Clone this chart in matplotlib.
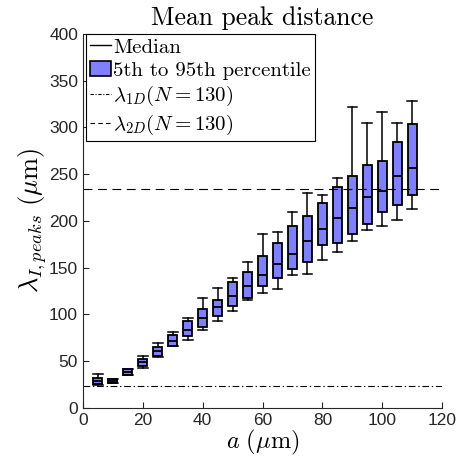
import matplotlib
matplotlib.use("Agg")
import matplotlib.pyplot as plt
from matplotlib.patches import Patch
from matplotlib.lines import Line2D

plt.rcParams['mathtext.fontset'] = 'cm'

# box positions (a in um)
a_vals = [5, 10, 15, 20, 25, 30, 35, 40, 45, 50, 55,
          60, 65, 70, 75, 80, 85, 90, 95, 100, 105, 110]
# lower whisker, 5th pct, median, 95th pct, upper whisker
whis_lo = [24.5, 26.4, 35.0, 42.4, 54.2, 66.3, 72.7, 83.4, 93.4, 103.7, 115.8,
           123.3, 127.6, 142.6, 143.3, 158.0, 166.8, 178.3, 190.0, 195.0, 201.0, 212.5]
q05 = [25.3, 26.4, 35.0, 45.3, 55.6, 66.3, 77.0, 86.6, 98.4, 109.4, 117.6,
       130.1, 138.7, 148.7, 156.5, 174.7, 176.1, 185.8, 196.5, 209.6, 216.6, 227.8]
medians = [29.0, 29.0, 38.5, 49.2, 60.6, 71.3, 83.7, 96.6, 108.0, 120.1, 130.5,
           142.6, 153.7, 165.0, 178.9, 191.4, 203.5, 213.7, 225.8, 231.7, 247.8, 256.2]
q95 = [32.0, 31.3, 41.4, 52.4, 64.9, 78.4, 93.4, 105.5, 115.5, 135.0, 145.0,
       162.6, 176.5, 194.3, 205.7, 218.9, 236.4, 247.9, 259.6, 263.5, 284.1, 303.7]
whis_hi = [36.4, 31.3, 41.4, 56.0, 69.2, 81.6, 96.6, 118.0, 128.3, 139.4, 156.5,
           186.4, 188.2, 209.3, 230.3, 227.8, 246.3, 322.0, 304.8, 316.9, 304.8, 328.3]

lambda_1d = 23
lambda_2d = 234

fig = plt.figure(figsize=(4.61, 4.76), dpi=100)
ax = fig.add_axes([0.18, 0.143, 0.779, 0.786])

stats = []
for i in range(len(a_vals)):
    stats.append(dict(med=medians[i], q1=q05[i], q3=q95[i],
                      whislo=whis_lo[i], whishi=whis_hi[i], fliers=[]))

ax.bxp(stats, positions=a_vals, widths=3.0, patch_artist=True,
       showfliers=False, manage_ticks=False,
       boxprops=dict(facecolor='#8080ff', edgecolor='black', linewidth=1.3),
       medianprops=dict(color='black', linewidth=1.3),
       whiskerprops=dict(color='black', linewidth=1.1),
       capprops=dict(color='black', linewidth=1.1),
       capwidths=3.2)

ax.axhline(lambda_1d, color='black', linestyle=(0, (6, 2.5, 1.2, 2.5)), linewidth=0.8)
ax.axhline(lambda_2d, color='black', linestyle=(0, (8, 5)), linewidth=0.8)

ax.set_xlim(0, 120)
ax.set_ylim(0, 400)
ax.set_xticks(range(0, 121, 20))
ax.set_yticks(range(0, 401, 50))
ax.tick_params(direction='in', labelsize=12.5, length=4, colors='#262626',
               labelcolor='#262626')
for lab in ax.get_xticklabels() + ax.get_yticklabels():
    lab.set_fontfamily('Liberation Sans')
ax.spines['top'].set_visible(False)
ax.spines['right'].set_visible(False)
for s in ['left', 'bottom']:
    ax.spines[s].set_color('#262626')

ax.set_title('Mean peak distance', fontfamily='cmr10', fontsize=18.5, pad=6)
ax.set_xlabel(r'$a\ (\mu\mathrm{m})$', fontsize=17.5, labelpad=0)
ax.set_ylabel(r'$\lambda_{I,peaks}\ (\mu\mathrm{m})$', fontsize=19, labelpad=0)

handles = [
    Line2D([], [], color='black', linewidth=1),
    Patch(facecolor='#8080ff', edgecolor='black', linewidth=1.2),
    Line2D([], [], color='black', linestyle=(0, (3, 1.5, 1, 1.5)), linewidth=0.8),
    Line2D([], [], color='black', linestyle=(0, (4, 3)), linewidth=0.8),
]
labels = ['Median', '5th to 95th percentile',
          r'$\lambda_{1D}(N=130)$', r'$\lambda_{2D}(N=130)$']
leg = ax.legend(handles, labels, loc='upper left', bbox_to_anchor=(0.008, 1.0),
                borderaxespad=0, fancybox=False, framealpha=1,
                prop=dict(family='cmr10', size=15), handlelength=1.0,
                handletextpad=0.1, borderpad=0.2, labelspacing=0.22)
leg.get_frame().set_edgecolor('black')
leg.get_frame().set_linewidth(0.8)

fig.savefig('out.png', dpi=100)
